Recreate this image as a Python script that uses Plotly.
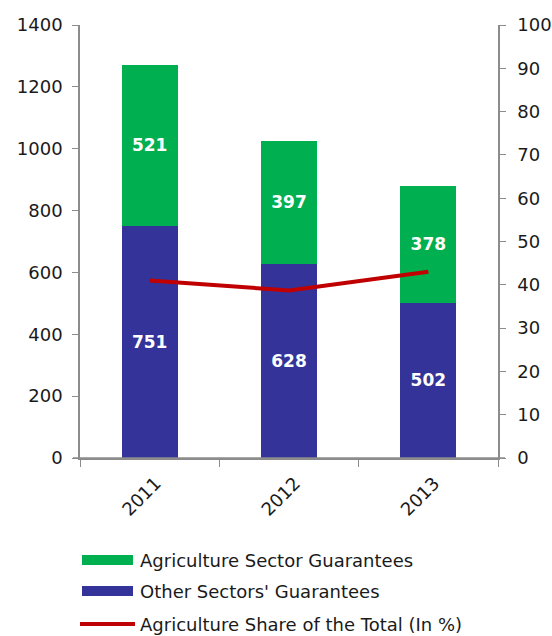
import plotly.graph_objects as go

years = ["2011", "2012", "2013"]
agri = [521, 397, 378]
other = [751, 628, 502]
share = [41.0, 38.7, 43.0]
names = ["Agriculture Sector Guarantees", "Other Sectors' Guarantees", "Agriculture Share of the Total (In %)"]
colors = ["#00B050", "#333399", "#C00000"]

FONT = "DejaVu Sans, Liberation Sans, Arial, sans-serif"
TXT = "#1a1a1a"

fig = go.Figure()
fig.add_trace(go.Bar(x=years, y=other, name=names[1], marker=dict(color=colors[1], line=dict(width=0)),
                     text=other, texttemplate="<b>%{text}</b>", textposition="inside",
                     insidetextanchor="middle", textfont=dict(color="white", size=17, family=FONT),
                     width=0.4))
fig.add_trace(go.Bar(x=years, y=agri, name=names[0], marker=dict(color=colors[0], line=dict(width=0)),
                     text=agri, texttemplate="<b>%{text}</b>", textposition="inside",
                     insidetextanchor="middle", textfont=dict(color="white", size=17, family=FONT),
                     width=0.4))
fig.add_trace(go.Scatter(x=years, y=share, name=names[2], mode="lines",
                         line=dict(color=colors[2], width=4), yaxis="y2"))

axcol = "#8c8c8c"
fig.update_layout(
    width=552, height=636,
    margin=dict(l=80, r=54, t=25, b=178, autoexpand=False),
    barmode="stack",
    showlegend=False,
    plot_bgcolor="white", paper_bgcolor="white",
    font=dict(family=FONT, size=18, color=TXT),
    xaxis=dict(type="category", range=[-0.5, 2.5], tickson="boundaries", ticks="outside",
               ticklen=7, tickcolor=axcol, showline=True, linecolor=axcol, linewidth=1.5,
               tickangle=-45, showgrid=False, tickfont=dict(size=18), automargin=False,
               ticklabelstandoff=6, ticklabelshift=6),
    yaxis=dict(range=[0, 1400], dtick=200, ticks="outside", ticklen=6, tickcolor=axcol,
               showline=True, linecolor=axcol, linewidth=1.5, showgrid=False, zeroline=False,
               tickfont=dict(size=18), ticklabelstandoff=6, automargin=False),
    yaxis2=dict(range=[0, 100], dtick=10, overlaying="y", side="right", ticks="outside",
                ticklen=6, tickcolor=axcol, showline=True, linecolor=axcol, linewidth=1.5,
                showgrid=False, zeroline=False, tickfont=dict(size=18), ticklabelstandoff=8,
                automargin=False),
)

def px2x(px):
    return (px - 80) / 418.0

def py2y(py):
    return (458 - py) / 433.0

# x-axis line extends slightly beyond the value axes
fig.add_shape(type="line", xref="paper", yref="paper", x0=px2x(73), x1=px2x(505),
              y0=0, y1=0, line=dict(color=axcol, width=1.5))

# manual legend
leg_y = [560, 591, 624]
for i, (nm, yy) in enumerate(zip(names, leg_y)):
    if i < 2:
        col = colors[0] if i == 0 else colors[1]
        fig.add_shape(type="rect", xref="paper", yref="paper",
                      x0=px2x(82), x1=px2x(133), y0=py2y(yy + 5), y1=py2y(yy - 5),
                      fillcolor=col, line=dict(width=0))
    else:
        fig.add_shape(type="line", xref="paper", yref="paper",
                      x0=px2x(80), x1=px2x(135), y0=py2y(yy), y1=py2y(yy),
                      line=dict(color=colors[2], width=4))
    fig.add_annotation(text=nm, xref="paper", yref="paper", x=px2x(138), y=py2y(yy),
                       xanchor="left", yanchor="middle", showarrow=False,
                       font=dict(size=18, color=TXT, family=FONT))

fig.write_html("out.html")
